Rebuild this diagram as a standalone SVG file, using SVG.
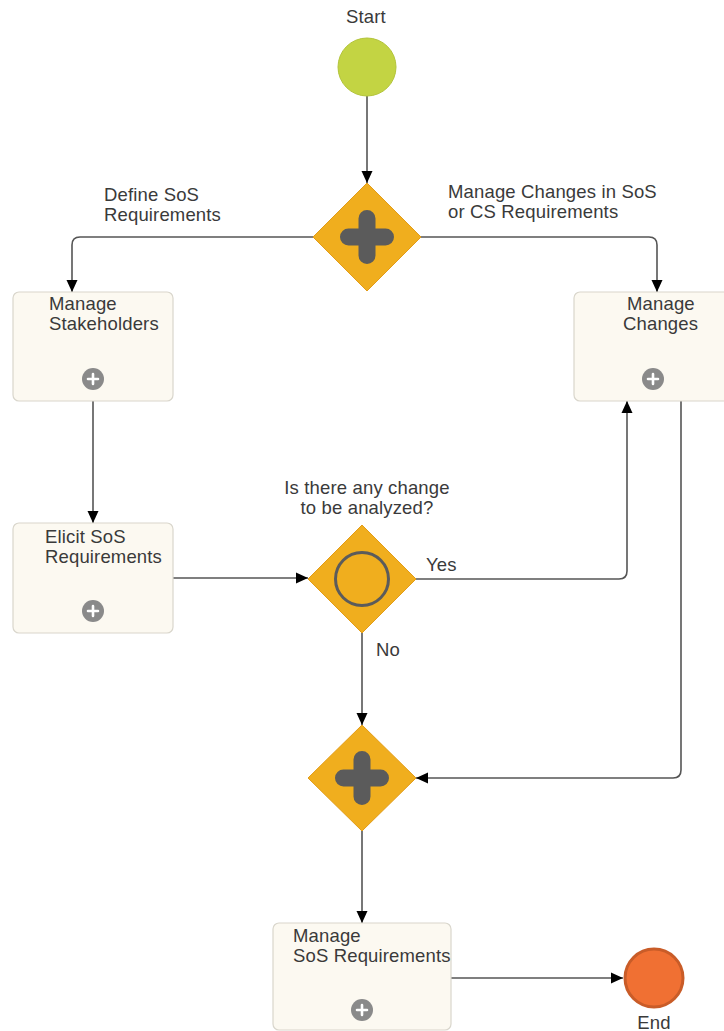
<svg xmlns="http://www.w3.org/2000/svg" width="724" height="1031" viewBox="0 0 724 1031">
  <style>
    text { font-family: "Liberation Sans", Arial, sans-serif; font-size: 18.5px; letter-spacing: 0.15px; fill: #3a3a3a; }
    .task { fill: #fcf9f1; stroke: #d9d6cc; stroke-width: 1.2; }
    .gw { fill: #f0ae1e; stroke: #e29c18; stroke-width: 1; }
    .sub { fill: #8a8a8a; }
    .subplus { stroke: #ffffff; stroke-width: 2.6; stroke-linecap: round; fill: none; }
    .flow { fill: none; stroke: #555555; stroke-width: 1.6; marker-end: url(#arrow); }
  </style>
  <defs>
    <marker id="arrow" viewBox="0 0 12 12" refX="12" refY="6" markerWidth="12" markerHeight="12" markerUnits="userSpaceOnUse" orient="auto">
      <path d="M0,0.5 L12,6 L0,11.5 Z" fill="#000000"/>
    </marker>
    <g id="subIcon">
      <circle r="11" class="sub"/>
      <path d="M-5,0 H5 M0,-5 V5" class="subplus"/>
    </g>
    <path id="plusMark" d="M-18.5,0 H18.5 M0,-18.5 V18.5" stroke="#5b5b5b" stroke-width="17" stroke-linecap="round" fill="none"/>
  </defs>

  <!-- sequence flows -->
  <g id="connectors">
    <path class="flow" d="M367,96 V183"/>
    <path class="flow" d="M313,237 H80 Q72,237 72,245 V292"/>
    <path class="flow" d="M421,237 H649 Q657,237 657,245 V292"/>
    <path class="flow" d="M93,401 V523"/>
    <path class="flow" d="M173,578 H308"/>
    <path class="flow" d="M416,579 H619 Q627,579 627,571 V401"/>
    <path class="flow" d="M362,633 V725"/>
    <path class="flow" d="M681,401 V770 Q681,778 673,778 H416"/>
    <path class="flow" d="M362,831 V923"/>
    <path class="flow" d="M451,978 H623"/>
  </g>

  <!-- flow labels -->
  <g id="labels">
    <text x="104" y="201">Define SoS</text>
    <text x="104" y="221">Requirements</text>
    <text x="448" y="198">Manage Changes in SoS</text>
    <text x="448" y="218">or CS Requirements</text>
    <text x="426" y="571">Yes</text>
    <text x="376" y="656">No</text>
  </g>

  <g id="start">
    <circle cx="367" cy="67" r="29" fill="#c3d443" stroke="#b3c43a" stroke-width="1"/>
    <text x="366" y="23" text-anchor="middle">Start</text>
  </g>

  <g id="split-gateway">
    <path class="gw" d="M367,183 L421,237 L367,291 L313,237 Z"/>
    <use href="#plusMark" x="367" y="237"/>
  </g>

  <g id="manage-stakeholders">
    <rect class="task" x="13" y="292" width="160" height="109" rx="6"/>
    <text x="49" y="310">Manage</text>
    <text x="49" y="330">Stakeholders</text>
    <use href="#subIcon" x="93" y="379"/>
  </g>

  <g id="manage-changes">
    <rect class="task" x="574" y="292" width="160" height="109" rx="6"/>
    <text x="627" y="310">Manage</text>
    <text x="623" y="330">Changes</text>
    <use href="#subIcon" x="653" y="379"/>
  </g>

  <g id="elicit-requirements">
    <rect class="task" x="13" y="523" width="160" height="110" rx="6"/>
    <text x="45" y="543">Elicit SoS</text>
    <text x="45" y="563">Requirements</text>
    <use href="#subIcon" x="93" y="611"/>
  </g>

  <g id="change-gateway">
    <path class="gw" d="M362,525 L416,579 L362,633 L308,579 Z"/>
    <circle cx="362" cy="579" r="26.5" fill="none" stroke="#5b5b5b" stroke-width="3"/>
    <text x="367" y="494" text-anchor="middle">Is there any change</text>
    <text x="367" y="514" text-anchor="middle">to be analyzed?</text>
  </g>

  <g id="join-gateway">
    <path class="gw" d="M362,725 L416,778 L362,831 L308,778 Z"/>
    <use href="#plusMark" x="362" y="778"/>
  </g>

  <g id="manage-sos-requirements">
    <rect class="task" x="273" y="923" width="178" height="107" rx="6"/>
    <text x="293" y="942">Manage</text>
    <text x="293" y="962">SoS Requirements</text>
    <use href="#subIcon" x="362" y="1010"/>
  </g>

  <g id="end">
    <circle cx="654" cy="978" r="29" fill="#f07033" stroke="#c95c28" stroke-width="3"/>
    <text x="654" y="1029" text-anchor="middle">End</text>
  </g>
</svg>
